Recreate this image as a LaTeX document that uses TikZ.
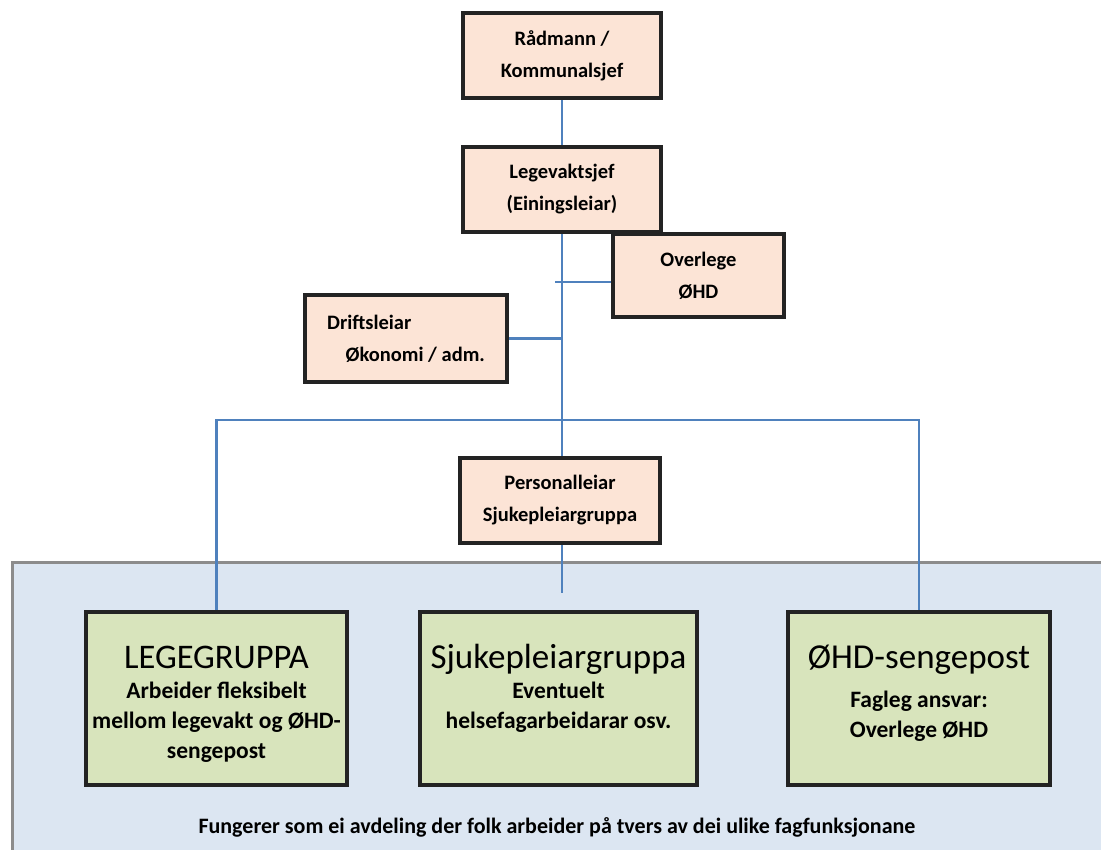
\documentclass[tikz,border=0pt]{standalone}
\usepackage{fontspec}
\setmainfont{Carlito}
\usepackage{tikz}
\definecolor{peach}{RGB}{252,228,214}
\definecolor{lgreen}{RGB}{216,228,188}
\definecolor{panelblue}{RGB}{220,230,242}
\definecolor{lineblue}{RGB}{79,129,189}
\definecolor{panelgray}{RGB}{140,140,140}
\definecolor{boxline}{RGB}{35,35,35}
\pgfdeclarelayer{bglayer}
\pgfdeclarelayer{edgelayer}
\pgfdeclarelayer{nodelayer}
\pgfsetlayers{bglayer,edgelayer,nodelayer,main}
\tikzstyle{orgbox}=[rectangle,fill=peach,draw=boxline,line width=3.2pt,inner sep=0pt,align=center,font=\bfseries\fontsize{20.5}{32}\selectfont]
\tikzstyle{grpbox}=[rectangle,fill=lgreen,draw=boxline,line width=3.4pt,inner sep=0pt,minimum height=173pt]
\tikzstyle{link}=[lineblue,line width=2.2pt]

\newcommand{\grptext}[2]{\parbox[c][173pt][t]{#1}{\centering #2}}

\begin{document}
\begin{tikzpicture}[x=1pt,y=-1pt]
        \useasboundingbox (0,0) rectangle (1101,850);

        \begin{pgfonlayer}{bglayer}
            \draw [fill=panelblue, draw=panelgray, line width=3pt] (12, 562) rectangle (1130, 880);
        \end{pgfonlayer}

        \begin{pgfonlayer}{nodelayer}
            \node [style = orgbox, minimum width=198pt, minimum height=85pt] (rad) at (562, 55.5) {Rådmann /\\Kommunalsjef};
            \node [style = orgbox, minimum width=198pt, minimum height=85pt] (leg) at (562, 189.5) {Legevaktsjef\\(Einingsleiar)};
            \node [style = orgbox, minimum width=171pt, minimum height=83pt] (ovl) at (698.5, 275.5) {Overlege\\ØHD};
            \node [style = orgbox, minimum width=202pt, minimum height=87pt, align=left] (drift) at (406, 338.5) {Driftsleiar\\\hspace*{0.9em}Økonomi / adm.};
            \node [style = orgbox, minimum width=200pt, minimum height=85pt] (pers) at (560, 500.5) {Personalleiar\\Sjukepleiargruppa};

            \node [style = grpbox, minimum width=261pt] (lege) at (216.5, 698.5) {\grptext{258pt}{\rule{0pt}{56pt}\fontsize{34.5}{40}\selectfont LEGEGRUPPA\par
                \bfseries\fontsize{23.5}{30}\selectfont Arbeider fleksibelt\\mellom  legevakt og ØHD-\\sengepost}};
            \node [style = grpbox, minimum width=277pt] (sjuk) at (558.5, 698.5) {\grptext{274pt}{\rule{0pt}{56pt}\fontsize{35}{40}\selectfont Sjukepleiargruppa\par
                \bfseries\fontsize{23.5}{30}\selectfont Eventuelt\\helsefagarbeidarar osv.}};
            \node [style = grpbox, minimum width=262pt] (ohd) at (919, 698.5) {\grptext{259pt}{\rule{0pt}{56pt}\fontsize{35}{40}\selectfont ØHD-sengepost\par
                \bfseries\fontsize{23.5}{30}\selectfont\rule{0pt}{32pt}Fagleg ansvar:\\Overlege ØHD}};

            \node [font=\bfseries\fontsize{22}{26}\selectfont] (note) at (557, 827) {Fungerer som ei avdeling der folk arbeider på tvers av dei ulike fagfunksjonane};
        \end{pgfonlayer}

        \begin{pgfonlayer}{edgelayer}
            \coordinate (bar) at (562, 420);
            \coordinate (tick) at (555, 282);
            \coordinate (persend) at (562, 593);

            \draw [style = link] (rad.south) to (leg.north);
            \draw [style = link] (leg.south) to (leg.south |- pers.north);
            \draw [style = link] (tick) to (tick -| ovl.west);
            \draw [style = link] (drift.east) to (drift.east -| leg.south);
            \draw [style = link] (lege.north) to (lege.north |- bar) to (ohd.north |- bar) to (ohd.north);
            \draw [style = link] (pers.south -| persend) to (persend);
        \end{pgfonlayer}
    \end{tikzpicture}
\end{document}
